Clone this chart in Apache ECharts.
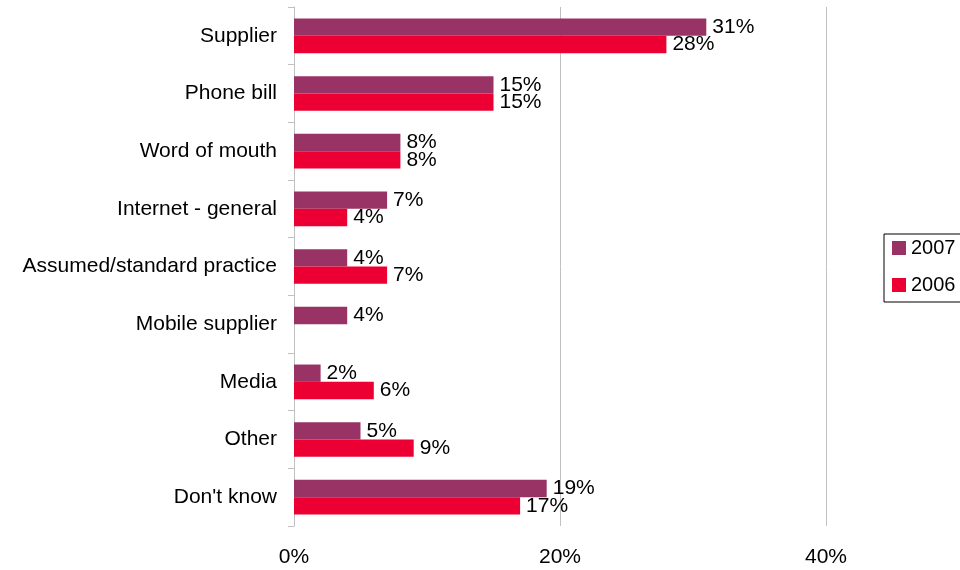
<!DOCTYPE html>
<html>
<head>
<meta charset="utf-8">
<script src="https://cdn.jsdelivr.net/npm/echarts@6/dist/echarts.min.js"></script>
<style>
  html, body { margin: 0; padding: 0; background: #fff; }
  #chart { width: 960px; height: 570px; }
</style>
</head>
<body>
<div id="chart"></div>
<script>
// Sources of information, share of respondents (%)
const categories = [
  'Supplier',
  'Phone bill',
  'Word of mouth',
  'Internet - general',
  'Assumed/standard practice',
  'Mobile supplier',
  'Media',
  'Other',
  "Don't know"
];
const values2007 = [31, 15, 8, 7, 4, 4, 2, 5, 19];
const values2006 = [28, 15, 8, 4, 7, null, 6, 9, 17];
const xTicks = { min: 0, max: 40, step: 20 };

const FONT = 'Liberation Sans, Arial, sans-serif';
const FS = 21;

const labelStyle = {
  show: true,
  position: 'right',
  distance: 6,
  formatter: p => (p.value == null ? '' : p.value + '%'),
  color: '#000',
  fontSize: FS,
  fontFamily: FONT
};

const chart = echarts.init(document.getElementById('chart'), null, { renderer: 'canvas' });

chart.setOption({
  animation: false,
  backgroundColor: '#fff',
  grid: { left: 294, right: 134, top: 7, bottom: 44, containLabel: false },
  legend: {
    orient: 'vertical',
    left: 884,
    top: 234,
    padding: [4, 14, 7, 8],
    itemWidth: 14,
    itemHeight: 14,
    itemGap: 17,
    borderColor: '#000',
    borderWidth: 1,
    icon: 'rect',
    textStyle: { fontSize: 20, color: '#000', fontFamily: FONT },
    data: ['2007', '2006']
  },
  xAxis: {
    type: 'value',
    min: xTicks.min,
    max: xTicks.max,
    interval: xTicks.step,
    axisLine: { show: false },
    axisTick: { show: false },
    axisLabel: {
      formatter: '{value}%',
      fontSize: FS,
      color: '#000',
      fontFamily: FONT,
      margin: 21
    },
    splitLine: { show: true, lineStyle: { color: '#c0c0c0', width: 1 } }
  },
  yAxis: {
    type: 'category',
    inverse: true,
    data: categories,
    axisLine: { show: true, lineStyle: { color: '#c0c0c0', width: 1 } },
    axisTick: { show: true, length: 6, lineStyle: { color: '#c0c0c0' } },
    axisLabel: {
      fontSize: FS,
      color: '#000',
      fontFamily: FONT,
      margin: 17
    }
  },
  series: [
    {
      name: '2007',
      type: 'bar',
      data: values2007,
      barGap: '0%',
      barCategoryGap: '40%',
      itemStyle: { color: '#993366' },
      label: labelStyle
    },
    {
      name: '2006',
      type: 'bar',
      data: values2006,
      barGap: '0%',
      barCategoryGap: '40%',
      itemStyle: { color: '#ec0033' },
      label: labelStyle
    }
  ]
});
</script>
</body>
</html>
